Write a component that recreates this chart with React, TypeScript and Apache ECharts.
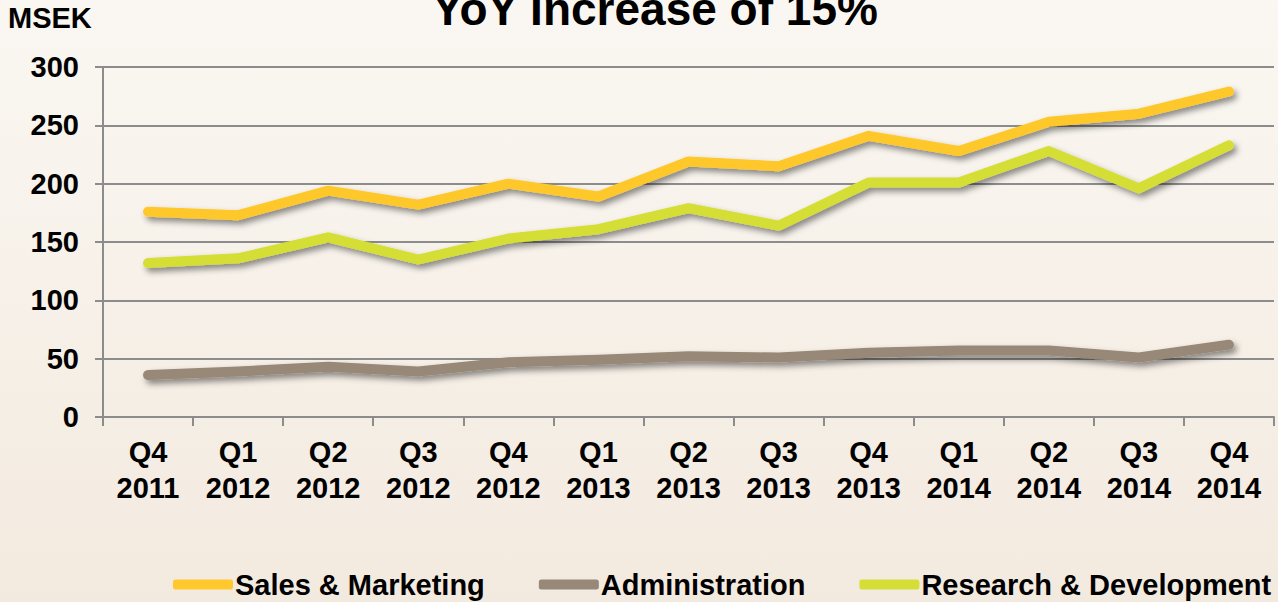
import React, { useEffect, useRef } from "react";
import * as echarts from "echarts";

const categories = [
  "Q4\n2011", "Q1\n2012", "Q2\n2012", "Q3\n2012", "Q4\n2012", "Q1\n2013", "Q2\n2013",
  "Q3\n2013", "Q4\n2013", "Q1\n2014", "Q2\n2014", "Q3\n2014", "Q4\n2014",
];
const salesMarketing = [176, 173, 194, 182, 200, 189, 219, 215, 241, 228, 253, 260, 279];
const administration = [36, 39, 43, 39, 47, 49, 52, 51, 55, 57, 57, 51, 62];
const researchDevelopment = [132, 136, 154, 135, 153, 161, 179, 164, 201, 201, 228, 196, 233];
const yTicks = { min: 0, max: 300, interval: 50 };

const FONT = "'Liberation Sans', Arial, sans-serif";

export default function App() {
  const ref = useRef<HTMLDivElement>(null);
  useEffect(() => {
    if (!ref.current) return;
    const chart = echarts.init(ref.current, null, { renderer: "svg" });
    const shadow = {
      shadowColor: "rgba(0,0,0,0.45)",
      shadowBlur: 6,
      shadowOffsetX: 3,
      shadowOffsetY: 4,
    };
    const mk = (name: string, data: number[], color: string) => ({
      name,
      type: "line",
      data,
      showSymbol: false,
      symbol: "none",
      lineStyle: { width: 10, color, cap: "round", join: "round", ...shadow },
      itemStyle: { color },
    });
    chart.setOption({
      animation: false,
      backgroundColor: {
        type: "linear", x: 0, y: 0, x2: 0, y2: 1,
        colorStops: [
          { offset: 0, color: "#FAF7F2" },
          { offset: 1, color: "#F3EADF" },
        ],
      },
      textStyle: { fontFamily: FONT },
      grid: { left: 103, right: 4, top: 67, bottom: 185 },
      graphic: [
        {
          type: "text", x: 655, y: 9,
          style: { text: "YoY Increase of 15%", font: `bold 46px ${FONT}`, fill: "#000", textAlign: "center", textVerticalAlign: "middle" },
        },
        {
          type: "text", x: 8, y: 18,
          style: { text: "MSEK", font: `bold 29px ${FONT}`, fill: "#000", textAlign: "left", textVerticalAlign: "middle" },
        },
      ],
      legend: {
        left: 168,
        top: 565,
        itemWidth: 60,
        itemHeight: 10,
        itemGap: 54,
        icon: "roundRect",
        textStyle: { fontFamily: FONT, fontSize: 29, fontWeight: "bold", color: "#000", padding: [0, 0, 0, -3] },
        data: ["Sales & Marketing", "Administration", "Research & Development"],
      },
      xAxis: {
        type: "category",
        data: categories,
        boundaryGap: true,
        axisLine: { lineStyle: { color: "#8C8C8C", width: 2 } },
        axisTick: { show: true, length: 9, lineStyle: { color: "#8C8C8C", width: 2 } },
        axisLabel: { interval: 0, fontFamily: FONT, fontSize: 29, fontWeight: "bold", color: "#000", lineHeight: 36, margin: 17 },
      },
      yAxis: {
        type: "value",
        min: yTicks.min,
        max: yTicks.max,
        interval: yTicks.interval,
        axisLine: { show: true, lineStyle: { color: "#8C8C8C", width: 2 } },
        axisTick: { show: true, length: 8, lineStyle: { color: "#8C8C8C", width: 2 } },
        splitLine: { lineStyle: { color: "#8C8C8C", width: 2 } },
        axisLabel: { fontFamily: FONT, fontSize: 29, fontWeight: "bold", color: "#000", margin: 24 },
      },
      series: [
        mk("Sales & Marketing", salesMarketing, "#FFC82C"),
        mk("Administration", administration, "#988878"),
        mk("Research & Development", researchDevelopment, "#D4DE36"),
      ],
    });
    return () => chart.dispose();
  }, []);
  return <div ref={ref} style={{ position: "absolute", left: 0, top: 0, width: 1278, height: 602 }} />;
}
